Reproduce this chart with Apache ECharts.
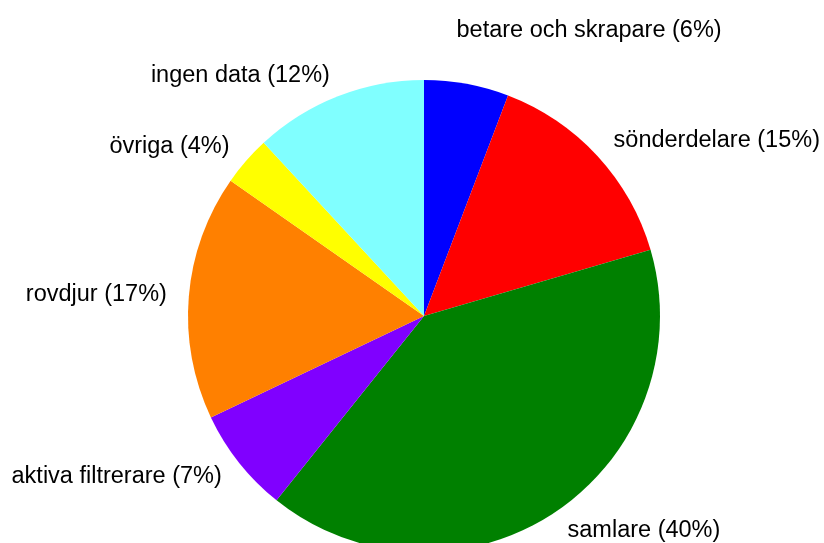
<!DOCTYPE html>
<html>
<head>
<meta charset="utf-8">
<script src="https://cdn.jsdelivr.net/npm/echarts@6/dist/echarts.min.js"></script>
<style>html,body{margin:0;padding:0;background:#fff}#c{width:824px;height:543px}</style>
</head>
<body>
<div id="c"></div>
<script>
const categories = ['betare och skrapare', 'sönderdelare', 'samlare', 'aktiva filtrerare', 'rovdjur', 'övriga', 'ingen data'];
const values = [5.8, 14.7, 40.3, 7.2, 16.8, 3.4, 11.9];
const percentLabels = ['6%', '15%', '40%', '7%', '17%', '4%', '12%'];
const colors = ['#0000ff', '#ff0000', '#008000', '#8000ff', '#ff8000', '#ffff00', '#80ffff'];

const data = categories.map((name, i) => {
  const item = { name: name, value: values[i], itemStyle: { color: colors[i] } };
  if (i === 0) item.labelLine = { show: false, length: 54, length2: 0 };
  return item;
});

const chart = echarts.init(document.getElementById('c'), null, { renderer: 'canvas' });
chart.setOption({
  animation: false,
  backgroundColor: '#ffffff',
  series: [{
    type: 'pie',
    center: [424, 316],
    radius: [0, 236],
    startAngle: 90,
    clockwise: true,
    avoidLabelOverlap: false,
    data: data,
    label: {
      show: true,
      position: 'outside',
      color: '#000000',
      fontFamily: 'Liberation Sans, Arial, sans-serif',
      fontSize: 23.5,
      distanceToLabelLine: 0,
      formatter: p => p.name + ' (' + percentLabels[p.dataIndex] + ')'
    },
    labelLine: { show: false, length: 22, length2: 0 },
    labelLayout: p => (p.dataIndex === 0 ? { dx: -20 } : {}),
    itemStyle: { borderWidth: 0 },
    emphasis: { disabled: true }
  }]
});
</script>
</body>
</html>
